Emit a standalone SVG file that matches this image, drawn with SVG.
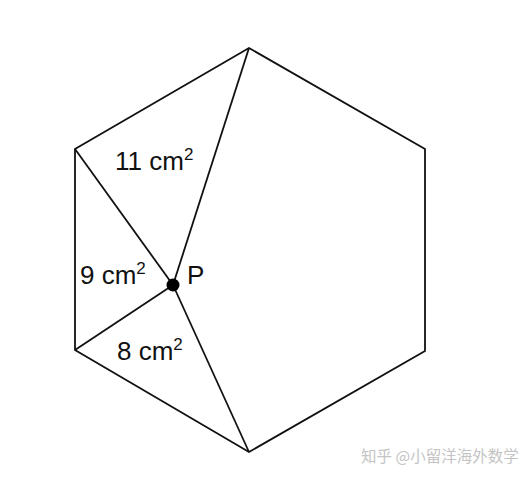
<svg xmlns="http://www.w3.org/2000/svg" width="532" height="478" viewBox="0 0 532 478">
<style>
.ln{stroke:#111;stroke-width:1.8;fill:none;stroke-linejoin:miter}
.lb{font-family:"Liberation Sans",Arial,sans-serif;font-size:26px;fill:#111}
.sup{font-size:17px}
.wm{font-family:"Noto Sans CJK SC","Liberation Sans",sans-serif;font-size:15.5px;fill:#c4c4c4}
</style>
<rect width="532" height="478" fill="#fff"/>
<g id="hexagon">
<polygon class="ln" points="249,48 425,149 425,351 249,452 75,350 75,149"/>
</g>
<g id="connectors">
<line class="ln" x1="173" y1="285" x2="249" y2="48"/>
<line class="ln" x1="173" y1="285" x2="75" y2="149"/>
<line class="ln" x1="173" y1="285" x2="75" y2="350"/>
<line class="ln" x1="173" y1="285" x2="249" y2="452"/>
</g>
<g id="P">
<circle cx="173" cy="285" r="6.5" fill="#000"/>
<text class="lb" x="187" y="284">P</text>
</g>
<g id="label11">
<text class="lb" x="115" y="170">11 cm<tspan class="sup" dy="-10">2</tspan></text>
</g>
<g id="label9">
<text class="lb" x="80" y="284">9 cm<tspan class="sup" dy="-10">2</tspan></text>
</g>
<g id="label8">
<text class="lb" x="117" y="360">8 cm<tspan class="sup" dy="-10">2</tspan></text>
</g>
<g id="watermark">
<text class="wm" x="361" y="462">知乎 @小留洋海外数学</text>
</g>
</svg>
